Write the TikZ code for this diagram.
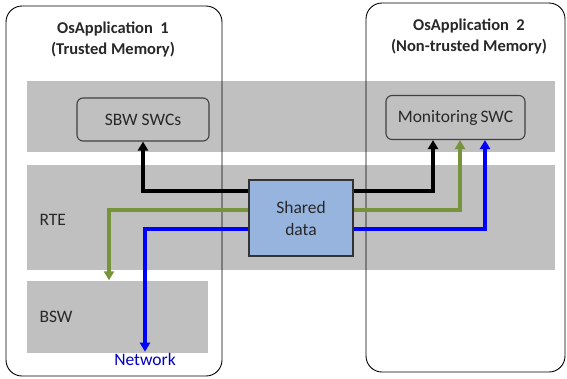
\documentclass[tikz,border=0pt]{standalone}
\usepackage{fontspec}
\setmainfont{Carlito}
\usetikzlibrary{arrows.meta,calc}
\definecolor{band}{RGB}{192,192,192}
\definecolor{sdfill}{RGB}{150,180,222}
\definecolor{lgreen}{RGB}{119,147,60}
\definecolor{lblue}{RGB}{0,0,255}
\definecolor{txt}{RGB}{40,40,40}
\tikzset{
  layer/.style={fill=band, draw=none, inner sep=0pt},
  osapp/.style={draw=black, line width=0.9pt, rounded corners=16pt},
  swc/.style={draw=black!75, line width=1.1pt, rounded corners=6pt, fill=band,
    font=\fontsize{17.5}{20}\selectfont, text=txt},
  title/.style={font=\bfseries\fontsize{16.5}{21}\selectfont, text=txt, align=center},
  lbl/.style={font=\fontsize{17.5}{20}\selectfont, text=txt, anchor=west},
  shared/.style={draw=black!80, line width=1.1pt, fill=sdfill, minimum width=104pt,
    minimum height=76pt, align=center, font=\fontsize{17.5}{22}\selectfont, text=txt},
  conn/.style={line width=3.3pt, -{Triangle[length=9pt,width=10pt]}},
}
\begin{document}
\begin{tikzpicture}[x=1pt,y=-1pt]
\useasboundingbox (0,0) rectangle (567,378);
% software layers
\node[layer, minimum width=528pt, minimum height=71pt] (appl) at (291,116.5) {};
\node[layer, minimum width=528pt, minimum height=105pt] (rte) at (291,217.5) {};
\node[layer, minimum width=181pt, minimum height=72pt] (bsw) at (117.5,316.5) {};
\node[lbl] (rtel) at (36,220) {RTE};
\node[lbl] (bswl) at (36,317) {BSW};
% OS applications (memory partitions)
\draw[osapp] (6,6) rectangle (222,376);
\draw[osapp] (366,3) rectangle (565,372);
\node[title] (t1) at (113,39) {OsApplication \ 1\\(Trusted Memory)};
\node[title] (t2) at (469,36) {OsApplication \ 2\\(Non-trusted Memory)};
% software components
\node[swc, minimum width=132pt, minimum height=43pt] (sbw) at (143,119.5) {SBW SWCs};
\node[swc, minimum width=139pt, minimum height=44pt] (mon) at (455.5,117.5) {Monitoring\,SWC};
\node[font=\fontsize{17.5}{20}\selectfont, text=lblue!75!black, inner sep=1pt] (net) at (145,359) {Network};
% connector endpoints at the receiving components
\coordinate (mk) at ($(mon.south)+(-22.5,0)$);
\coordinate (mg) at ($(mon.south)+(4.5,0)$);
\coordinate (mb) at ($(mon.south)+(29.5,0)$);
\coordinate (bg) at ($(bsw.north)+(-8.5,0)$);
% shared data buffer
\node[shared] (sd) at (301,218) {Shared\\data};
% data flows (yshift is in canvas units, positive = up)
\draw[conn, black] ([yshift=27pt]sd.west) -| (sbw.south);
\draw[conn, black] ([yshift=27pt]sd.east) -| (mk);
\draw[conn, lgreen] ([yshift=8pt]sd.west) -| (bg);
\draw[conn, lgreen] ([yshift=8pt]sd.east) -| (mg);
\draw[conn, lblue] ([yshift=-11pt]sd.west) -| (net.north);
\draw[conn, lblue] ([yshift=-11pt]sd.east) -| (mb);
% keep the buffer outline above the flow ends
\draw[draw=black!80, line width=1.1pt] (sd.south west) rectangle (sd.north east);
\end{tikzpicture}
\end{document}
